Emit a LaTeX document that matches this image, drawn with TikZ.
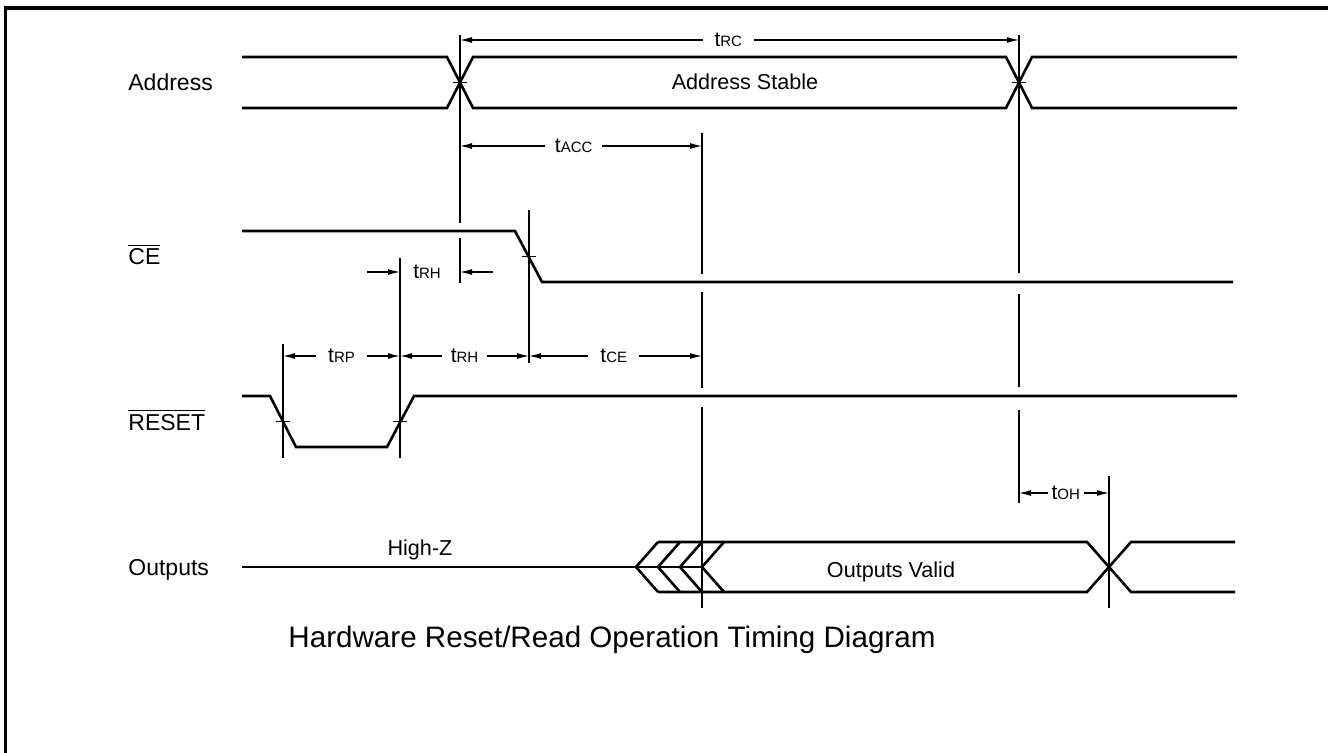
\documentclass[tikz,border=0pt]{standalone}
\usepackage{fontspec}
\setmainfont{Liberation Sans}
\usepackage{amsmath}
\usetikzlibrary{arrows.meta}
\newcommand{\tparam}[1]{{\fontsize{10.5}{12}\selectfont t}{\fontsize{7.5}{9}\selectfont #1}}
\newcommand{\lowact}[1]{$\overline{\mbox{#1}}$}

\begin{document}
\begin{tikzpicture}[x=0.5pt,y=-0.5pt,
			sig/.style={line width=1.3pt},
			ref/.style={line width=0.55pt},
			dim/.style={line width=0.55pt,{Latex[length=6pt,width=3pt]}-{Latex[length=6pt,width=3pt]}},
			half/.style={line width=0.55pt,-{Latex[length=6pt,width=3pt]}},
			gap/.style={fill=white,inner ysep=1pt,inner xsep=#1},
			lbl/.style={anchor=base west,inner sep=0pt,font=\fontsize{11.5}{13}\selectfont},
			val/.style={anchor=base,inner sep=0pt,font=\fontsize{10.8}{12}\selectfont}]
			\useasboundingbox (0,0) rectangle (1328,753);
			\draw[line width=1.6pt] (5.5,753) -- (5.5,8) -- (1328,8);
			\node[lbl] (addr) at (128,90.5) {Address};
			\node[lbl] (ce) at (128,264.5) {\lowact{CE}};
			\node[lbl] (reset) at (128,430) {\lowact{RESET}};
			\node[lbl] (outs) at (128,575) {Outputs};
			\draw[sig] (242,57) -- (447,57) -- (473,108) -- (1006,108) -- (1032,57) -- (1237,57);
			\draw[sig] (242,108) -- (447,108) -- (473,57) -- (1006,57) -- (1032,108) -- (1237,108);
			\node[val] (stable) at (745,90) {Address Stable};
			\draw[sig] (242,231) -- (515,231) -- (542,282) -- (1233,282);
			\draw[sig] (242,396) -- (270,396) -- (296,447) -- (387,447) -- (414,396) -- (1237,396);
			\draw[sig] (242,567) -- (702,567);
			\foreach \k in {0,...,3}
				\draw[sig] (658+22*\k,542) -- (636+22*\k,567) -- (658+22*\k,592);
			\draw[sig] (658,542) -- (1087,542) -- (1131,592) -- (1235,592);
			\draw[sig] (658,592) -- (1087,592) -- (1131,542) -- (1235,542);
			\node[val] (hiz) at (420,555) {High-Z};
			\node[val] (valid) at (891,577) {Outputs Valid};
			\foreach \x/\a/\b in {460/35/223,460/238/283,1019/35/273,1019/294/387,1019/410/503,
					702/133/274,702/292/388,702/407/608,529/210/363,400/258/458,283/344/458,1109/476/608}
				\draw[ref] (\x,\a) -- (\x,\b);
			\foreach \x/\y in {460/82.5,1019/82.5,529/256.5,283/421.5,400/421.5}
				\draw[ref] (\x-7,\y) -- (\x+7,\y);
			\draw[dim] (460,40) -- node[gap=6pt,pos=0.48] (trc) {\tparam{RC}} (1019,40);
			\draw[dim] (460,146) -- node[gap=5pt,pos=0.47] (tacc) {\tparam{ACC}} (702,146);
			\draw[half] (367,272) -- (400,272);
			\draw[half] (493,272) -- (460,272);
			\node (trh) at (427,272) {\tparam{RH}};
			\draw[dim] (283,356) -- node[gap=6pt] (trp) {\tparam{RP}} (400,356);
			\draw[dim] (400,356) -- node[gap=4.5pt] (trh2) {\tparam{RH}} (529,356);
			\draw[dim] (529,356) -- node[gap=6pt,pos=0.49] (tce) {\tparam{CE}} (702,356);
			\draw[dim] (1019,493) -- node[gap=2pt,pos=0.52] (toh) {\tparam{OH}} (1109,493);
			\node[anchor=base,inner sep=0pt,font=\fontsize{14.8}{17}\selectfont] (caption) at (612,647)
				{Hardware Reset/Read Operation Timing Diagram};
\end{tikzpicture}
\end{document}
